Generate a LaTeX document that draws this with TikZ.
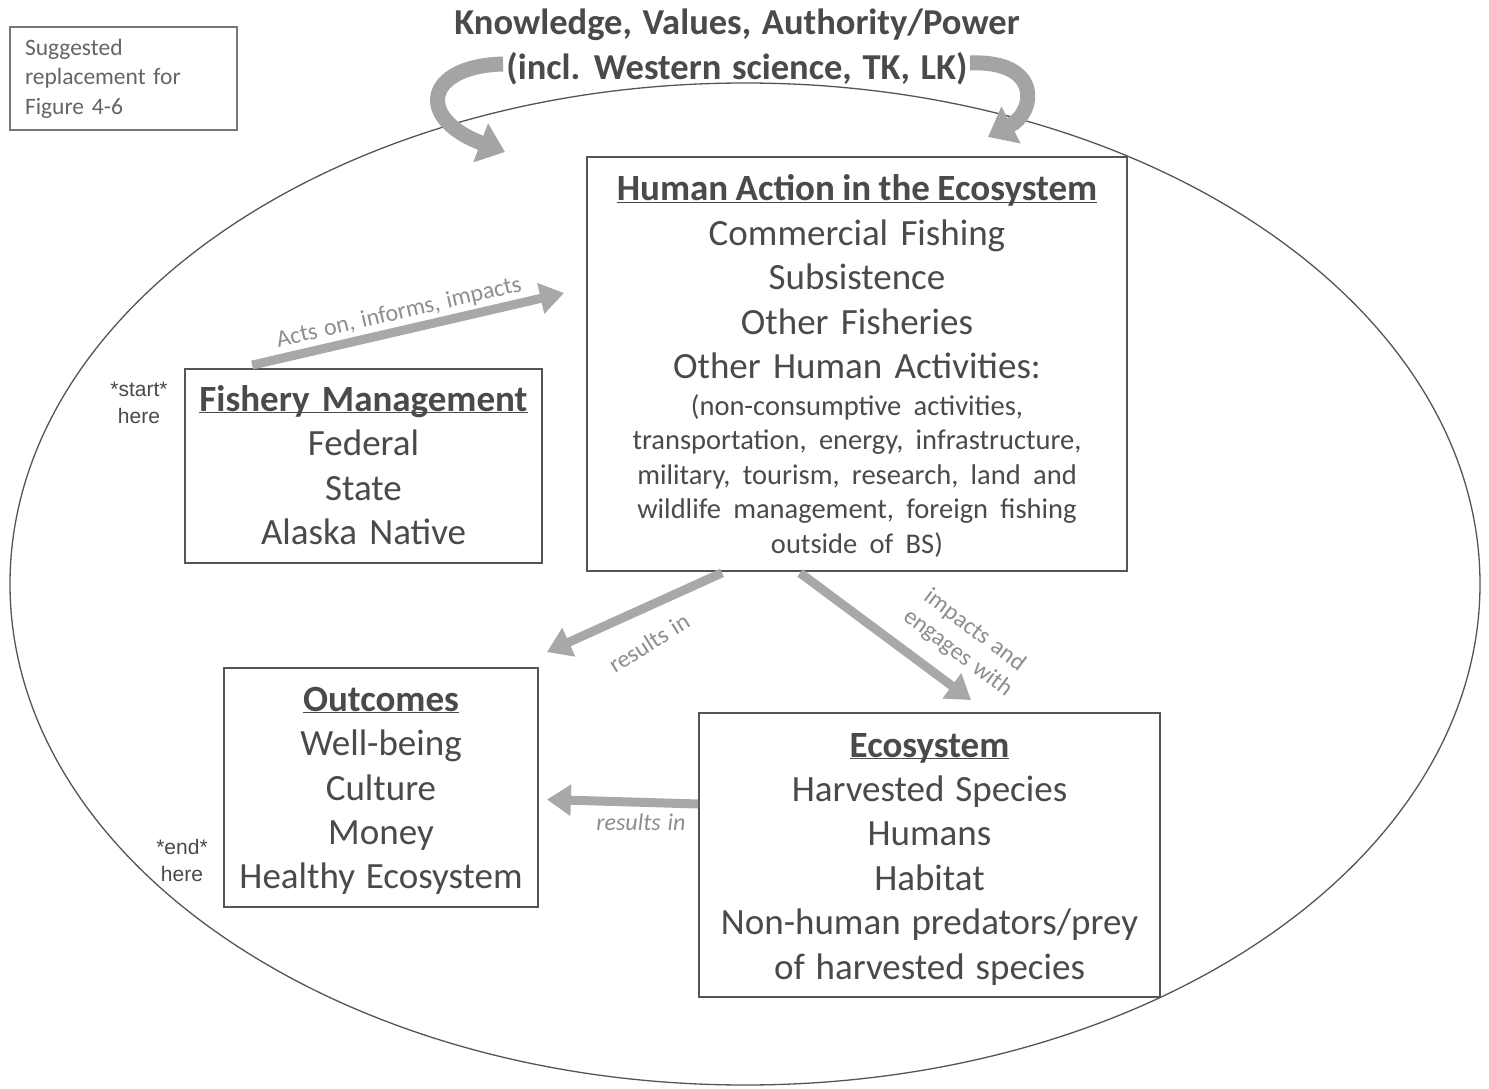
\documentclass[tikz,border=0pt]{standalone}
\usepackage{fontspec}
\setmainfont{Carlito}[WordSpace=1.3]
\newfontfamily\arialfont{Liberation Sans}
\usetikzlibrary{arrows.meta,calc}
\definecolor{txt}{HTML}{4A4A4A}
\definecolor{boxline}{HTML}{555555}
\definecolor{arr}{HTML}{A8A8A8}
\definecolor{lbl}{HTML}{8E8E8E}
\definecolor{curv}{HTML}{A4A4A4}
\newcommand\bigf{\fontsize{37}{44.4}\selectfont}
\newcommand\smallf{\fontsize{28.5}{34.5}\selectfont}
\newcommand\myul[1]{\underline{\smash{#1}}\vphantom{Hy}}
\begin{document}
\begin{tikzpicture}[x=1pt,y=-1pt,
  box/.style={draw=boxline, line width=1.8pt, text=txt, align=center, inner sep=0pt, font=\bigf},
  fatarrow/.style={draw=arr, line width=9pt, -{Triangle[width=30pt,length=24pt]}},
  curvarrow/.style={draw=curv, line width=15pt, -{Triangle[width=40pt,length=26pt]}},
  lab/.style={text=lbl, font=\fontsize{24}{27}\selectfont, inner sep=0pt, align=center},
  note/.style={text=txt, font=\arialfont\fontsize{21}{27}\selectfont, inner sep=0pt, align=center}]
\useasboundingbox (0,0) rectangle (1489,1089);
\fill[white] (0,0) rectangle (1489,1089);
% ellipse
\draw[boxline, line width=1.3pt] (745,584) ellipse [x radius=735pt, y radius=501pt];
% title
\node[text=txt, font=\bfseries\fontsize{36.5}{45}\selectfont, align=center, inner sep=0pt] (title) at (737,47)
  {Knowledge, Values, Authority/Power\\(incl. Western science, TK, LK)};
% curved arrows
\coordinate (lt) at (503,64);
\coordinate (lh) at (505,152);
\coordinate (rt) at (970,63);
\coordinate (rh) at (988,137);
\draw[curvarrow] (lt) .. controls (425,66) and (415,118) .. (lh);
\draw[curvarrow] (rt) .. controls (1042,60) and (1036,112) .. (rh);
% suggested box
\node[draw=boxline!80, line width=1.2pt, text=txt!85, minimum width=227pt, minimum height=103pt,
  text width=197pt, align=left, inner sep=0pt, font=\fontsize{23.5}{29.5}\selectfont] (sugg) at (123.5,78.5)
  {Suggested\\replacement for\\Figure 4-6};
% Human action
\node[box, minimum width=540pt, minimum height=414pt, text width=530pt] (human) at (857,364)
  {};
\node[text=txt, align=center, inner sep=0pt, text width=530pt, font=\bigf] (humantext) at (857,367)
  {{\bigf\textbf{\myul{Human\hspace{0.2em}Action\hspace{0.2em}in\hspace{0.2em}the\hspace{0.2em}Ecosystem}}\\Commercial Fishing\\Subsistence\\Other Fisheries\\Other Human Activities:\par}
   {\smallf\vspace{2pt}(non-consumptive activities,\\transportation, energy, infrastructure,\\military, tourism, research, land and\\wildlife management, foreign fishing\\outside of BS)\par}};
% Fishery management
\node[box, minimum width=357pt, minimum height=194pt, text width=350pt] (fish) at (363.5,466)
  {\textbf{\myul{Fishery Management}}\\Federal\\State\\Alaska Native};
% Outcomes
\node[box, minimum width=314pt, minimum height=239pt] (out) at (381,787.5) {};
\node[text=txt, align=center, inner sep=0pt, font=\bigf] (outtext) at (381,791)
  {\textbf{\myul{Outcomes}}\\Well-being\\Culture\\Money\\Healthy Ecosystem};
% Ecosystem
\node[box, minimum width=461pt, minimum height=284pt] (eco) at (929.5,855) {};
\node[text=txt, align=center, inner sep=0pt, font=\bigf] (ecotext) at (929.5,859)
  {\textbf{\myul{Ecosystem}}\\Harvested Species\\Humans\\Habitat\\Non-human predators/prey\\of harvested species};
% notes
\node[note] (start) at (139,403) {*start*\\here};
\node[note] (end) at (182,860) {*end*\\here};
% arrows
\draw[fatarrow] ([xshift=68pt,yshift=3pt]fish.north west) -- ([xshift=-22pt,yshift=71pt]human.west);
\draw[fatarrow] ([xshift=-135pt,yshift=-1pt]human.south) -- ([xshift=8pt,yshift=15pt]out.north east);
\draw[fatarrow] ([xshift=-57pt,yshift=-1pt]human.south) -- ([xshift=273pt,yshift=12pt]eco.north west);
\draw[fatarrow] ([yshift=51pt]eco.west) -- ([xshift=8pt,yshift=-12pt]out.east);
% labels
\node[lab, rotate=13] (l1) at (399,313) {Acts on, informs, impacts};
\node[lab, rotate=32] (l2) at (649,643) {results in};
\node[lab, rotate=-37, font=\fontsize{24}{28}\selectfont] (l3) at (966,642) {impacts and\\engages with};
\node[lab, font=\itshape\fontsize{24}{27}\selectfont] (l4) at (641,822) {results in};
\end{tikzpicture}
\end{document}
